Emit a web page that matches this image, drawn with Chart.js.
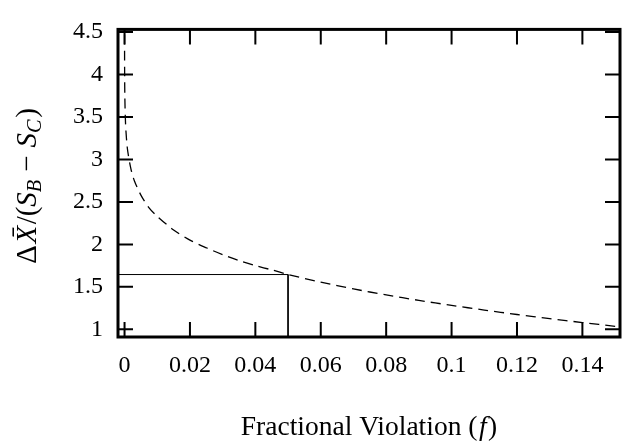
<!DOCTYPE html>
<html>
<head>
<meta charset="utf-8">
<script src="https://cdn.jsdelivr.net/npm/chart.js@4"></script>
<style>
  html, body { margin: 0; padding: 0; background: #fff; }
  #chart { display: block; }
</style>
</head>
<body>
<canvas id="chart" width="623" height="446"></canvas>
<script>
// values
const violation = [0.000004, 0.00001, 0.00003, 0.0001, 0.0003, 0.0006, 0.001, 0.002, 0.003,
  0.005, 0.0075, 0.01, 0.015, 0.02, 0.025, 0.03, 0.035, 0.04, 0.045, 0.05, 0.06, 0.07,
  0.08, 0.09, 0.1, 0.11, 0.12, 0.13, 0.14, 0.15, 0.1515];
const ratio = [4.47, 4.26, 4.01, 3.72, 3.43, 3.24, 3.09, 2.88, 2.75,
  2.58, 2.43, 2.33, 2.17, 2.05, 1.96, 1.88, 1.81, 1.75, 1.70, 1.645, 1.555, 1.476,
  1.405, 1.341, 1.282, 1.227, 1.175, 1.126, 1.08, 1.036, 1.03];

const cutoffF = [-0.002, 0.05, 0.05];
const cutoffY = [1.645, 1.645, 0.91];

const xTicks = [0, 0.02, 0.04, 0.06, 0.08, 0.1, 0.12, 0.14];
const yTicks = [1, 1.5, 2, 2.5, 3, 3.5, 4, 4.5];

const serif = "'Liberation Serif', 'DejaVu Serif', serif";
const tickSize = 24;

const toPoints = (xs, ys) => xs.map((x, i) => ({ x: x, y: ys[i] }));

// draw a line of mixed upright / italic / subscript pieces centred on (0, 0)
function drawRuns(ctx, runs, size) {
  const fontFor = (r) => {
    const s = r.sub ? size * 0.7 : size;
    return (r.it ? "italic " : "") + s + "px " + serif;
  };
  let total = 0;
  runs.forEach((r) => {
    ctx.font = fontFor(r);
    r.w = ctx.measureText(r.t).width + (r.gap || 0) * 2;
    total += r.w;
  });
  let x = -total / 2;
  ctx.textBaseline = "middle";
  ctx.textAlign = "left";
  runs.forEach((r) => {
    ctx.font = fontFor(r);
    ctx.fillText(r.t, x + (r.gap || 0), r.sub ? size * 0.28 : 0);
    x += r.w;
  });
}

const frameAndTitles = {
  id: "frameAndTitles",
  afterDatasetsDraw(chart) {
    const { ctx, chartArea: a, scales } = chart;
    const tick = 15;
    ctx.save();
    ctx.strokeStyle = "#000";
    ctx.fillStyle = "#000";

    // inward ticks, mirrored on all four sides
    ctx.lineWidth = 2;
    ctx.beginPath();
    xTicks.forEach((v) => {
      const px = scales.x.getPixelForValue(v);
      ctx.moveTo(px, a.bottom);
      ctx.lineTo(px, a.bottom - tick);
      ctx.moveTo(px, a.top);
      ctx.lineTo(px, a.top + tick);
    });
    yTicks.forEach((v) => {
      const py = scales.y.getPixelForValue(v);
      ctx.moveTo(a.left, py);
      ctx.lineTo(a.left + tick, py);
      ctx.moveTo(a.right, py);
      ctx.lineTo(a.right - tick, py);
    });
    ctx.stroke();

    ctx.lineWidth = 3;
    ctx.strokeRect(a.left, a.top, a.right - a.left, a.bottom - a.top);

    // x title
    ctx.save();
    ctx.translate((a.left + a.right) / 2, 428);
    drawRuns(ctx, [
      { t: "Fractional Violation (" },
      { t: "f", it: true, gap: 1.5 },
      { t: ")" },
    ], 27.5);
    ctx.restore();

    // y title
    ctx.save();
    ctx.translate(28, (a.top + a.bottom) / 2 + 2);
    ctx.rotate(-Math.PI / 2);
    drawRuns(ctx, [
      { t: "\u0394" },
      { t: "X\u0304", it: true, gap: 1.5 },
      { t: "/(" },
      { t: "S", it: true },
      { t: "B", it: true, sub: true },
      { t: "\u2212", gap: 8 },
      { t: "S", it: true },
      { t: "C", it: true, sub: true },
      { t: ")", gap: 1.5 },
    ], 29);
    ctx.restore();

    ctx.restore();
  },
};

new Chart(document.getElementById("chart"), {
  type: "scatter",
  data: {
    datasets: [
      {
        label: "ratio",
        data: toPoints(violation, ratio),
        showLine: true,
        borderColor: "#000",
        borderWidth: 1.3,
        borderDash: [10, 6],
        pointRadius: 0,
        tension: 0.3,
      },
      {
        label: "cutoff",
        data: toPoints(cutoffF, cutoffY),
        showLine: true,
        borderColor: "#000",
        borderWidth: 1,
        pointRadius: 0,
      },
    ],
  },
  options: {
    responsive: false,
    animation: false,
    layout: { padding: { top: 10, right: 3, left: 0, bottom: 0 } },
    plugins: {
      legend: { display: false },
      tooltip: { enabled: false },
    },
    scales: {
      x: {
        type: "linear",
        min: -0.002,
        max: 0.1515,
        grid: { display: false, drawTicks: false },
        border: { display: false },
        afterBuildTicks: (scale) => {
          scale.ticks = xTicks.map((v) => ({ value: v }));
        },
        afterFit: (scale) => {
          scale.height = 109;
        },
        ticks: {
          padding: 14,
          color: "#000",
          font: { family: serif, size: tickSize },
          maxRotation: 0,
          callback: (value) => String(value),
        },
      },
      y: {
        type: "linear",
        min: 0.91,
        max: 4.53,
        grid: { display: false, drawTicks: false },
        border: { display: false },
        afterBuildTicks: (scale) => {
          scale.ticks = yTicks.map((v) => ({ value: v }));
        },
        afterFit: (scale) => {
          scale.width = 118;
        },
        ticks: {
          padding: 15,
          color: "#000",
          font: { family: serif, size: tickSize },
          callback: (value) => String(value),
        },
      },
    },
  },
  plugins: [frameAndTitles],
});
</script>
</body>
</html>
